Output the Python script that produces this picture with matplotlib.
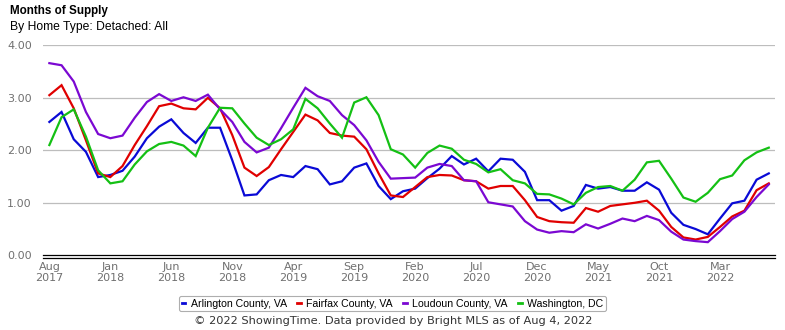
import matplotlib
matplotlib.use("Agg")
import matplotlib.pyplot as plt
import numpy as np

# Monthly months-of-supply, Aug 2017 .. Jul 2022
START_YEAR, START_MONTH = 2017, 8

arlington = [2.54, 2.73, 2.21, 1.97, 1.49, 1.53, 1.61, 1.88, 2.23, 2.45,
             2.59, 2.33, 2.14, 2.43, 2.43, 1.81, 1.14, 1.16, 1.43, 1.53,
             1.49, 1.70, 1.64, 1.35, 1.41, 1.67, 1.75, 1.32, 1.07, 1.22,
             1.27, 1.47, 1.65, 1.89, 1.73, 1.84, 1.60, 1.84, 1.82, 1.59,
             1.05, 1.05, 0.85, 0.94, 1.34, 1.27, 1.30, 1.23, 1.23, 1.39,
             1.25, 0.81, 0.58, 0.50, 0.40, 0.70, 0.99, 1.04, 1.44, 1.56]
fairfax = [3.05, 3.24, 2.80, 2.19, 1.56, 1.49, 1.70, 2.10, 2.46, 2.84,
           2.89, 2.80, 2.78, 3.00, 2.80, 2.29, 1.67, 1.51, 1.68, 2.02,
           2.35, 2.68, 2.57, 2.33, 2.28, 2.26, 2.02, 1.56, 1.14, 1.11,
           1.30, 1.49, 1.53, 1.52, 1.43, 1.41, 1.27, 1.32, 1.32, 1.05,
           0.73, 0.65, 0.63, 0.62, 0.90, 0.83, 0.94, 0.97, 1.00, 1.04,
           0.85, 0.54, 0.34, 0.30, 0.35, 0.54, 0.74, 0.85, 1.24, 1.37]
loudoun = [3.66, 3.62, 3.31, 2.73, 2.31, 2.23, 2.28, 2.62, 2.92, 3.07,
           2.94, 3.01, 2.94, 3.06, 2.78, 2.54, 2.16, 1.96, 2.05, 2.42,
           2.81, 3.19, 3.03, 2.94, 2.67, 2.48, 2.19, 1.78, 1.46, 1.47,
           1.48, 1.67, 1.74, 1.70, 1.43, 1.41, 1.01, 0.97, 0.93, 0.65,
           0.49, 0.43, 0.46, 0.44, 0.59, 0.51, 0.60, 0.70, 0.65, 0.75,
           0.67, 0.45, 0.30, 0.27, 0.25, 0.46, 0.69, 0.83, 1.11, 1.35]
washington = [2.10, 2.63, 2.78, 2.26, 1.62, 1.37, 1.41, 1.73, 1.98, 2.12,
              2.16, 2.09, 1.89, 2.43, 2.81, 2.80, 2.51, 2.24, 2.10, 2.21,
              2.40, 2.98, 2.80, 2.51, 2.24, 2.91, 3.01, 2.67, 2.02, 1.92,
              1.67, 1.95, 2.09, 2.03, 1.82, 1.74, 1.58, 1.64, 1.43, 1.37,
              1.17, 1.16, 1.08, 0.97, 1.19, 1.30, 1.32, 1.23, 1.44, 1.77,
              1.80, 1.46, 1.10, 1.02, 1.19, 1.45, 1.52, 1.81, 1.96, 2.05]

series = [
    ("Arlington County, VA", arlington, "#0a0ad6"),
    ("Fairfax County, VA", fairfax, "#e00000"),
    ("Loudoun County, VA", loudoun, "#7b08d2"),
    ("Washington, DC", washington, "#14c014"),
]

y_ticks = [0, 1, 2, 3, 4]
MONTHS = ["Jan", "Feb", "Mar", "Apr", "May", "Jun",
          "Jul", "Aug", "Sep", "Oct", "Nov", "Dec"]

n = len(arlington)
x = np.arange(n)

fig = plt.figure(figsize=(7.85, 3.30), dpi=100)
ax = fig.add_axes([0.0548, 0.2264, 0.932, 0.6363])

for yv in y_ticks[1:]:
    ax.axhline(yv, color="#bdbdbd", lw=0.9, zorder=0)

for label, vals, col in series:
    ax.plot(x, vals, color=col, lw=1.6, label=label, solid_joinstyle="miter")

ax.set_xlim(-0.52, n - 0.52)
ax.set_ylim(0, 4)

for s in ["top", "right", "left"]:
    ax.spines[s].set_visible(False)
ax.spines["bottom"].set_color("black")
ax.spines["bottom"].set_linewidth(0.9)
ax.axhline(0, color="black", lw=0.9, zorder=5, clip_on=False)
ax.spines["bottom"].set_position(("outward", 2))

ax.set_yticks(y_ticks)
ax.set_yticklabels([f"{v:.2f}" for v in y_ticks])

tick_pos = list(range(0, n, 5))
tick_lbl = []
for i in tick_pos:
    m = (START_MONTH - 1 + i) % 12
    yr = START_YEAR + (START_MONTH - 1 + i) // 12
    tick_lbl.append(f"{MONTHS[m]}\n{yr}")
ax.set_xticks(tick_pos)
ax.set_xticklabels(tick_lbl, linespacing=1.15)

ax.tick_params(axis="both", length=0, colors="#707070", labelsize=8)
ax.tick_params(axis="y", pad=8)
ax.tick_params(axis="x", pad=3)

fig.text(0.0127, 0.968, "Months of Supply", fontsize=8.4, fontweight="bold",
         family="Liberation Sans", va="center", ha="left")
fig.text(0.0127, 0.918, "By Home Type: Detached: All", fontsize=8.7,
         family="Liberation Sans", va="center", ha="left")

leg = fig.legend(loc="center", bbox_to_anchor=(0.5, 0.080), ncol=4,
                 frameon=True, handlelength=0.35,
                 handletextpad=0.5, columnspacing=1.0, borderpad=0.25,
                 prop={"family": "Liberation Sans", "size": 7.6})
leg.get_frame().set_edgecolor("#9a9a9a")
leg.get_frame().set_linewidth(0.8)
for h in leg.get_lines():
    h.set_linewidth(2)

fig.text(0.501, 0.027, "\u00a9 2022 ShowingTime. Data provided by Bright MLS as of Aug 4, 2022",
         fontsize=8.2, color="#333333", ha="center", va="center")

fig.savefig("out.png", dpi=100)
